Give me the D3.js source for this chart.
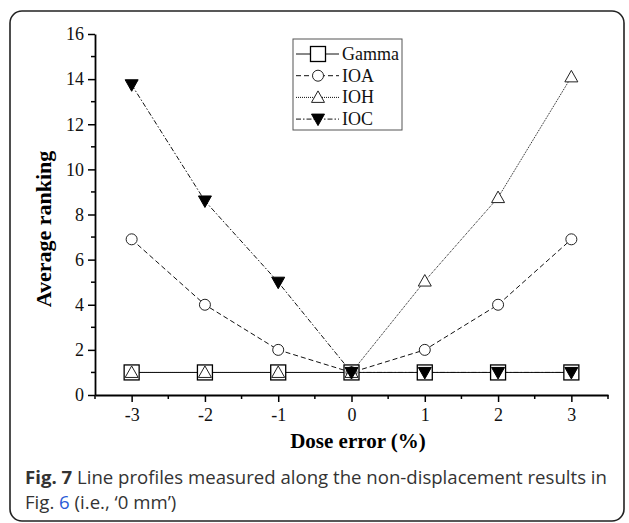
<!DOCTYPE html>
<html>
<head>
<meta charset="utf-8">
<script src="https://cdnjs.cloudflare.com/ajax/libs/d3/7.8.5/d3.min.js"></script>
<style>
  body { margin: 0; background: #fff; }
  svg { display: block; }
</style>
</head>
<body>
<div id="chart"></div>
<script>
// data
const doseError = [-3, -2, -1, 0, 1, 2, 3];
const gamma = [1, 1, 1, 1, 1, 1, 1];
const ioa = [6.9, 4, 2, 1, 2, 4, 6.9];
const ioh = [1, 1, 1, 1, 5.05, 8.75, 14.1];
const ioc = [13.75, 8.6, 5, 1, 1, 1, 1];
const xTicks = [-3, -2, -1, 0, 1, 2, 3];
const yTicks = [0, 2, 4, 6, 8, 10, 12, 14, 16];

const series = [
    {name: "Gamma", values: gamma, dash: null, marker: "square"},
    {name: "IOA", values: ioa, dash: "5,3", marker: "circle"},
    {name: "IOH", values: ioh, dash: "1,1", marker: "triUp"},
    {name: "IOC", values: ioc, dash: "5,2,1.5,2", marker: "triDown"}
];

function main() {
    const W = 629, H = 523;
    const svg = d3.select("#chart").append("svg")
        .attr("width", W)
        .attr("height", H);

    // rounded frame round the figure
    svg.append("rect")
        .attr("x", 10).attr("y", 11)
        .attr("width", 614).attr("height", 510)
        .attr("rx", 12)
        .attr("fill", "none")
        .attr("stroke", "#222")
        .attr("stroke-width", 1.6);

    const xScale = d3.scaleLinear().domain([-3.5, 3.5]).range([95, 608]);
    const yScale = d3.scaleLinear().domain([0, 16]).range([395, 34]);

    const serif = "Liberation Serif";

    // x axis
    const xAxis = svg.append("g")
        .attr("transform", `translate(0, ${yScale(0)})`)
        .call(d3.axisBottom(xScale).tickValues(xTicks).tickSize(7).tickSizeOuter(0).tickPadding(6)
            .tickFormat(d => String(d)));
    xAxis.append("g").selectAll("line")
        .data(d3.range(-3.5, 3.51, 1))
        .enter().append("line")
        .attr("x1", d => xScale(d)).attr("x2", d => xScale(d))
        .attr("y1", 0).attr("y2", 4)
        .attr("stroke", "#000").attr("stroke-width", 1.5);

    // y axis
    const yAxis = svg.append("g")
        .attr("transform", `translate(${xScale(-3.5)}, 0)`)
        .call(d3.axisLeft(yScale).tickValues(yTicks).tickSize(7).tickSizeOuter(0).tickPadding(4)
            .tickFormat(d => String(d)));
    yAxis.append("g").selectAll("line")
        .data(d3.range(1, 16, 2))
        .enter().append("line")
        .attr("y1", d => yScale(d)).attr("y2", d => yScale(d))
        .attr("x1", 0).attr("x2", -4)
        .attr("stroke", "#000").attr("stroke-width", 1.5);

    [xAxis, yAxis].forEach(function(ax) {
        ax.attr("font-family", serif).attr("font-size", 18);
        ax.selectAll(".domain").attr("stroke", "#000").attr("stroke-width", 1.8);
        ax.selectAll(".tick line").attr("stroke", "#000").attr("stroke-width", 1.5);
        ax.selectAll(".tick text")
            .attr("font-family", serif)
            .attr("font-size", 18)
            .attr("fill", "#111");
    });

    // axis titles
    svg.append("text")
        .attr("x", 358).attr("y", 448)
        .attr("text-anchor", "middle")
        .attr("font-family", serif).attr("font-size", 21).attr("font-weight", "bold")
        .text("Dose error (%)");
    svg.append("text")
        .attr("transform", "translate(51, 229) rotate(-90)")
        .attr("text-anchor", "middle")
        .attr("font-family", serif).attr("font-size", 22).attr("font-weight", "bold")
        .text("Average ranking");

    const line = d3.line()
        .x((d, i) => xScale(doseError[i]))
        .y(d => yScale(d));

    function drawMarker(g, type, x, y) {
        if (type == "square") {
            g.append("rect").attr("x", x - 7.5).attr("y", y - 7.5).attr("width", 15).attr("height", 15)
                .attr("fill", "#fff").attr("stroke", "#000").attr("stroke-width", 1.3);
        } else if (type == "circle") {
            g.append("circle").attr("cx", x).attr("cy", y).attr("r", 5.5)
                .attr("fill", "#fff").attr("stroke", "#222").attr("stroke-width", 1);
        } else if (type == "triUp") {
            g.append("path").attr("d", `M${x},${y - 6.5}L${x + 6.5},${y + 5}L${x - 6.5},${y + 5}Z`)
                .attr("fill", "#fff").attr("stroke", "#222").attr("stroke-width", 1);
        } else {
            g.append("path").attr("d", `M${x - 6.5},${y - 5}L${x + 6.5},${y - 5}L${x},${y + 6.5}Z`)
                .attr("fill", "#000").attr("stroke", "#000").attr("stroke-width", 1);
        }
    }

    series.forEach(function(s) {
        svg.append("path")
            .datum(s.values)
            .attr("d", line)
            .attr("fill", "none")
            .attr("stroke", "#111")
            .attr("stroke-width", 1)
            .attr("stroke-dasharray", s.dash);
    });
    series.forEach(function(s) {
        const g = svg.append("g");
        s.values.forEach(function(v, i) {
            drawMarker(g, s.marker, xScale(doseError[i]), yScale(v));
        });
    });

    // legend
    const leg = svg.append("g");
    leg.append("rect")
        .attr("x", 293).attr("y", 39).attr("width", 109).attr("height", 91)
        .attr("fill", "#fff").attr("stroke", "#555").attr("stroke-width", 1);
    series.forEach(function(s, i) {
        const cy = 54 + i * 21.7;
        leg.append("line")
            .attr("x1", 296).attr("x2", 339).attr("y1", cy).attr("y2", cy)
            .attr("stroke", "#111").attr("stroke-width", 1)
            .attr("stroke-dasharray", s.dash);
        drawMarker(leg, s.marker, 318, cy);
        leg.append("text")
            .attr("x", 342).attr("y", cy + 6)
            .attr("font-family", serif).attr("font-size", 18)
            .attr("fill", "#111")
            .text(s.name);
    });

    // caption
    const sans = "Open Sans";
    const cap1 = svg.append("text")
        .attr("x", 25).attr("y", 484)
        .attr("font-family", sans).attr("font-size", 18.6)
        .attr("fill", "#333");
    cap1.append("tspan").attr("font-weight", "bold").text("Fig. 7");
    cap1.append("tspan").text(" Line profiles measured along the non-displacement results in");
    const cap2 = svg.append("text")
        .attr("x", 25).attr("y", 509)
        .attr("font-family", sans).attr("font-size", 18.6)
        .attr("fill", "#333");
    cap2.append("tspan").text("Fig. ");
    cap2.append("tspan").attr("fill", "#2a5bd7").text("6");
    cap2.append("tspan").text(" (i.e., \u20180 mm\u2019)");
}

main();
</script>
</body>
</html>
